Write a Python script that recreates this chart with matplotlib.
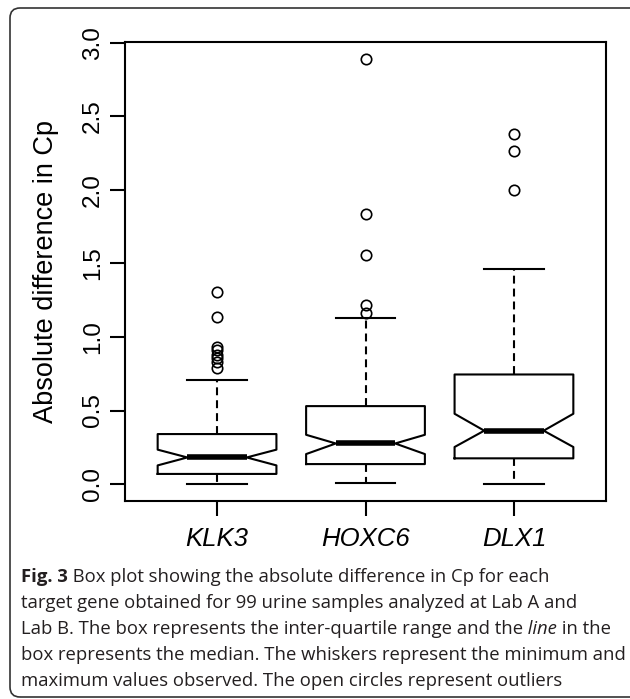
import matplotlib.pyplot as plt
from matplotlib.patches import FancyBboxPatch
from matplotlib.transforms import IdentityTransform

# values
genes = ["KLK3", "HOXC6", "DLX1"]
med = [0.181, 0.276, 0.363]
q1 = [0.069, 0.136, 0.175]
q3 = [0.340, 0.530, 0.745]
whislo = [0.0, 0.007, 0.0]
whishi = [0.707, 1.127, 1.464]
notch_lo = [0.127, 0.204, 0.252]
notch_hi = [0.234, 0.335, 0.478]
outliers = [
    [1.308, 1.138, 0.93, 0.91, 0.88, 0.86, 0.83, 0.79],
    [2.89, 1.834, 1.555, 1.215, 1.16],
    [2.379, 2.263, 1.997],
]
yticks = [0.0, 0.5, 1.0, 1.5, 2.0, 2.5, 3.0]

W, H = 630, 699
fig = plt.figure(figsize=(W / 100, H / 100), dpi=100)
ax = fig.add_axes([125 / W, 1 - 501 / H, 481 / W, 459.3 / H])

stats = []
for i in range(len(genes)):
    stats.append(dict(med=med[i], q1=q1[i], q3=q3[i], whislo=whislo[i],
                      whishi=whishi[i], fliers=outliers[i],
                      cilo=notch_lo[i], cihi=notch_hi[i], label=genes[i]))

lw = 1.5
ax.bxp(stats, positions=[1, 2, 3], widths=0.8, capwidths=0.4, shownotches=True,
       boxprops=dict(color="black", lw=lw),
       medianprops=dict(color="black", lw=4, solid_capstyle="butt"),
       whiskerprops=dict(color="black", lw=lw, linestyle=(0, (3.8, 2.4))),
       capprops=dict(color="black", lw=lw),
       flierprops=dict(marker="o", markerfacecolor="none", markeredgecolor="black",
                       markersize=7.5, markeredgewidth=1.2))

ax.set_xlim(0.38, 3.62)
ax.set_ylim(-0.115, 3.007)
ax.set_yticks(yticks)
ax.set_yticklabels([f"{v:.1f}" for v in yticks], rotation=90, va="center",
                   fontsize=17.5, family="Liberation Sans")
ax.set_xticks([1, 2, 3])
ax.set_xticklabels(genes, fontsize=18.5, style="italic", family="Liberation Sans")
ax.tick_params(length=11, width=lw, direction="out", colors="black")
ax.tick_params(axis="y", pad=4)
ax.tick_params(axis="x", pad=8)
for s in ax.spines.values():
    s.set_linewidth(lw)
ax.set_ylabel("Absolute difference in Cp", fontsize=19.5, family="Liberation Sans")
ax.yaxis.set_label_coords((46 - 125) / 481, 0.5)
ax.yaxis.label.set_va("center")

# caption
cap_kw = dict(fontsize=13.3, family="Open Sans", color="#231f20")
x0 = 21 / W
base = [582, 608, 634, 660, 686]
t = fig.text(x0, 1 - base[0] / H, "Fig. 3", weight="bold", **cap_kw)
plt.annotate(" Box plot showing the absolute difference in Cp for each",
             xy=(1, 0), xycoords=t, va="bottom", annotation_clip=False, **cap_kw)
fig.text(x0, 1 - base[1] / H,
         "target gene obtained for 99 urine samples analyzed at Lab A and", **cap_kw)
t3 = fig.text(x0, 1 - base[2] / H,
              "Lab B. The box represents the inter-quartile range and the", **cap_kw)
t4 = plt.annotate(" line", xy=(1, 0), xycoords=t3, va="bottom", style="italic",
                  annotation_clip=False, **cap_kw)
plt.annotate(" in the", xy=(1, 0), xycoords=t4, va="bottom", annotation_clip=False, **cap_kw)
fig.text(x0, 1 - base[3] / H,
         "box represents the median. The whiskers represent the minimum and", **cap_kw)
fig.text(x0, 1 - base[4] / H,
         "maximum values observed. The open circles represent outliers", **cap_kw)

# rounded frame around figure and caption
frame = FancyBboxPatch((10, 2), 640, H - 10, boxstyle="round,pad=0,rounding_size=10",
                       transform=IdentityTransform(), fill=False, lw=1.2, ec="#333333")
fig.add_artist(frame)

fig.savefig("out.png", dpi=100)
